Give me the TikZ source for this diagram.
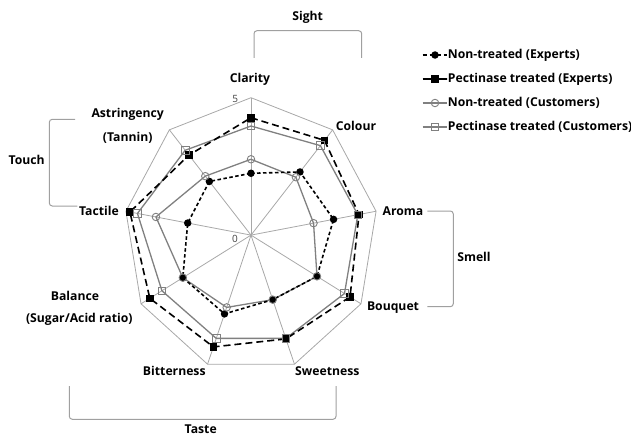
\documentclass[tikz,border=0pt]{standalone}
\usepackage{fontspec}
\setmainfont{Open Sans}
\definecolor{gridgray}{HTML}{A8A8A8}
\definecolor{datagray}{HTML}{808080}
\definecolor{brgray}{HTML}{A0A0A0}
\definecolor{numgray}{HTML}{404040}
\begin{document}
\begin{tikzpicture}[x=1pt,y=-1pt,
  lbl/.style={font=\bfseries\fontsize{12.2}{14}\selectfont, text=black, inner sep=0pt},
  num/.style={font=\fontsize{10}{12}\selectfont, text=numgray, inner sep=0pt},
  gridline/.style={draw=gridgray, line width=0.8pt},
  brk/.style={draw=brgray, line width=1pt, rounded corners=3pt},
  expA/.style={draw=black, line width=1.6pt, dash pattern=on 3.5pt off 2.5pt},
  expB/.style={draw=black, line width=1.6pt, dash pattern=on 7pt off 4pt},
  cusA/.style={draw=datagray, line width=1.3pt},
  cusB/.style={draw=datagray, line width=1.3pt},
  mkA/.style={circle, fill=black, minimum size=7.5pt, inner sep=0pt},
  mkB/.style={rectangle, fill=black, minimum size=7.5pt, inner sep=0pt},
  mkC/.style={circle, draw=datagray, line width=0.9pt, minimum size=7.5pt, inner sep=0pt},
  mkD/.style={rectangle, draw=datagray, line width=0.9pt, minimum size=7.5pt, inner sep=0pt},
]
\useasboundingbox (0,0) rectangle (631,436);

% ---------- radar chart ----------
\begin{scope}[shift={(251,235.1)}, x=25.4pt, y=27.48pt]
  \coordinate (O) at (0,0);
  \foreach \ang [count=\i] in {90,50,10,-30,-70,-110,-150,170,130}
    \coordinate (V\i) at (\ang:5);
  \foreach \i in {1,...,9} \draw[gridline] (O) -- (V\i);
  \draw[gridline] (V1) -- (V2) -- (V3) -- (V4) -- (V5) -- (V6) -- (V7) -- (V8) -- (V9) -- cycle;

  % data points
  \foreach \ang/\v [count=\i] in {90/2.25,50/3.0,10/3.3,-30/3.0,-70/2.5,-110/3.05,-150/3.1,170/2.53,130/2.55}
    \coordinate (A\i) at (\ang:\v);
  \foreach \ang/\v [count=\i] in {90/4.27,50/4.5,10/4.32,-30/4.5,-70/4.02,-110/4.33,-150/4.6,170/4.84,130/3.8}
    \coordinate (B\i) at (\ang:\v);
  \foreach \ang/\v [count=\i] in {90/2.76,50/2.75,10/2.5,-30/3.0,-70/2.5,-110/2.8,-150/3.1,170/3.8,130/2.8}
    \coordinate (C\i) at (\ang:\v);
  \foreach \ang/\v [count=\i] in {90/3.97,50/4.25,10/4.27,-30/4.25,-70/4.0,-110/4.0,-150/4.05,170/4.54,130/4.03}
    \coordinate (D\i) at (\ang:\v);

  \draw[cusA] (C1) -- (C2) -- (C3) -- (C4) -- (C5) -- (C6) -- (C7) -- (C8) -- (C9) -- cycle;
  \draw[cusB] (D1) -- (D2) -- (D3) -- (D4) -- (D5) -- (D6) -- (D7) -- (D8) -- (D9) -- cycle;
  \draw[expA] (A1) -- (A2) -- (A3) -- (A4) -- (A5) -- (A6) -- (A7) -- (A8) -- (A9) -- cycle;
  \draw[expB] (B1) -- (B2) -- (B3) -- (B4) -- (B5) -- (B6) -- (B7) -- (B8) -- (B9) -- cycle;

  \foreach \i in {1,...,9} {
    \node[mkA] (mA\i) at (A\i) {};
    \node[mkB] (mB\i) at (B\i) {};
    \node[mkC] (mC\i) at (C\i) {};
    \node[mkD] (mD\i) at (D\i) {};
  }
\end{scope}

\node[num] (n5) at (235.3,99.3) {5};
\node[num] (n0) at (235,239) {0};

% ---------- axis labels ----------
\node[lbl] (lClarity) at (250,79) {Clarity};
\node[lbl] (lColour) at (356,125.7) {Colour};
\node[lbl] (lAroma) at (403,211) {Aroma};
\node[lbl] (lBouquet) at (393,307.7) {Bouquet};
\node[lbl] (lSweet) at (327.3,371) {Sweetness};
\node[lbl] (lBitter) at (174.3,371) {Bitterness};
\node[lbl] (lBal1) at (75,295.7) {Balance};
\node[lbl] (lBal2) at (79.3,319.3) {(Sugar/Acid ratio)};
\node[lbl] (lTact) at (99,210.7) {Tactile};
\node[lbl] (lAst1) at (127.7,114) {Astringency};
\node[lbl] (lAst2) at (127.7,137.7) {(Tannin)};

% ---------- group brackets ----------
\draw[brk] (254,58) -- (254,30.7) -- (361.7,30.7) -- (361.7,58);
\node[lbl] (gSight) at (307.7,17.3) {Sight};
\draw[brk] (427.3,211) -- (453.3,211) -- (453.3,306.7) -- (427.3,306.7);
\node[lbl] (gSmell) at (474,257.3) {Smell};
\draw[brk] (69.3,386) -- (69.3,419.3) -- (336,419.3) -- (336,386);
\node[lbl] (gTaste) at (200.7,428.8) {Taste};
\draw[brk] (75,119.3) -- (49.3,119.3) -- (49.3,206) -- (77.3,206);
\node[lbl] (gTouch) at (26.7,160) {Touch};

% ---------- legend ----------
\coordinate (L1a) at (422.7,55);  \coordinate (L1b) at (446.7,55);
\coordinate (L2a) at (422.7,79);  \coordinate (L2b) at (446.7,79);
\coordinate (L3a) at (422.7,103); \coordinate (L3b) at (446.7,103);
\coordinate (L4a) at (422.7,127); \coordinate (L4b) at (446.7,127);
\draw[expA, dash pattern=on 4pt off 3pt] (L1a) -- (L1b);
\node[mkA] (k1) at (435,55) {};
\node[lbl, anchor=west] (t1) at (447.7,55) {Non-treated (Experts)};
\draw[expB, dash pattern=on 8pt off 0pt] (L2a) -- (L2b);
\node[mkB] (k2) at (435,79) {};
\node[lbl, anchor=west] (t2) at (447.7,79) {Pectinase treated (Experts)};
\draw[cusA] (L3a) -- (L3b);
\node[mkC] (k3) at (435,103) {};
\node[lbl, anchor=west] (t3) at (447.7,103) {Non-treated (Customers)};
\draw[cusB] (L4a) -- (L4b);
\node[mkD] (k4) at (435,127) {};
\node[lbl, anchor=west] (t4) at (447.7,127) {Pectinase treated (Customers)};
\end{tikzpicture}
\end{document}
